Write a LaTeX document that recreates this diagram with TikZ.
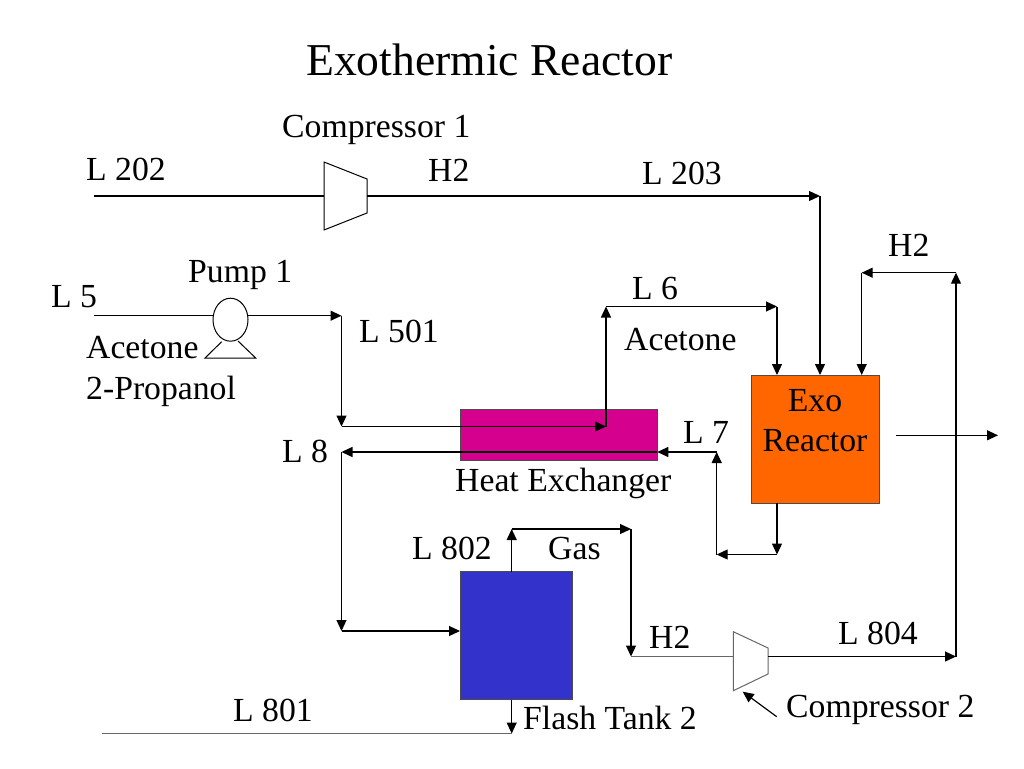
\documentclass[tikz,border=0pt]{standalone}
\usepackage{fontspec}
\setmainfont{Liberation Serif}
\usetikzlibrary{arrows.meta,shapes.geometric}
\tikzset{
  x=1pt,y=-1pt,
  lbl/.style={anchor=base west,inner sep=0pt,font=\fontsize{33.7}{40}\selectfont},
  flow/.style={line width=1.2pt,-{Triangle[length=11pt,width=10pt]}},
  pipe/.style={line width=1.2pt},
  greypipe/.style={line width=1.2pt,color=black!60},
  unit/.style={draw=black!70,line width=1pt,inner sep=0pt,outer sep=0pt,anchor=north west}
}
\begin{document}
\begin{tikzpicture}
\useasboundingbox (0,0) rectangle (1024,768);
% units
\node[unit,fill={rgb,255:red,255;green,102;blue,0},minimum width=128pt,minimum height=128pt] (exo) at (751,375) {};
\node[unit,fill={rgb,255:red,214;green,0;blue,143},minimum width=197pt,minimum height=51pt] (hx) at (460,409.5) {};
\node[unit,fill={rgb,255:red,51;green,51;blue,204},minimum width=112pt,minimum height=128pt] (tank) at (460,571.5) {};
\node[draw,ellipse,line width=1pt,inner sep=0pt,outer sep=0pt,minimum width=35pt,minimum height=43pt] (pump) at (230.5,319.7) {};
\draw[line width=1pt] (221.7,341.7)--(205,358)--(255.7,358)--(238,341);
\draw[line width=1pt] (324,162)--(367,179)--(367,213)--(324,230)--cycle;
\draw[line width=1pt,color=black!60] (733.3,631.7)--(768,648)--(768,674)--(733.3,690.7)--cycle;
% line ends and corners
\coordinate (in202) at (94,196);
\coordinate (c1in) at (324,196);
\coordinate (c1out) at (367,196);
\coordinate (j203) at (820,196);
\coordinate (r203) at (820,375);
\coordinate (in5) at (94,315.7);
\coordinate (j501) at (341.5,315.7);
\coordinate (j501b) at (341.5,426.5);
\coordinate (j6a) at (606,426.5);
\coordinate (j6b) at (606,306.5);
\coordinate (j6c) at (777,306.5);
\coordinate (r6) at (777,375);
\coordinate (rb) at (777,503);
\coordinate (jb) at (777,554.5);
\coordinate (jl) at (716.7,554.5);
\coordinate (j7) at (716.7,452);
\coordinate (hxr) at (657.3,452);
\coordinate (j8) at (341.5,452);
\coordinate (j8b) at (341.5,631);
\coordinate (tl) at (460,631);
\coordinate (tt) at (511.7,571.5);
\coordinate (jg) at (511.7,529);
\coordinate (jga) at (631,529);
\coordinate (jgb) at (631,656.5);
\coordinate (c2in) at (733.3,656.5);
\coordinate (c2out) at (768,656.5);
\coordinate (j804) at (956,656.5);
\coordinate (jh) at (956,272.7);
\coordinate (jhb) at (861.7,272.7);
\coordinate (rh) at (861.7,375);
\coordinate (tb) at (511.7,699.5);
\coordinate (j801) at (511.7,733.5);
\coordinate (out801) at (102,733.5);
\coordinate (exoa) at (896,435.3);
\coordinate (exob) at (998,435.3);
\coordinate (c2lab) at (776.7,716.7);
\coordinate (c2tip) at (742.7,691.7);
% connectors
\draw[pipe] (in202)--(c1in);
\draw[flow] (c1out)--(j203);
\draw[flow] (j203)--(r203);
\draw[pipe] (in5)--(pump.west |- in5);
\draw[flow] (pump.east |- j501)--(j501);
\draw[flow] (j501)--(j501b);
\draw[flow] (j501b)--(j6a);
\draw[flow] (j6a)--(j6b);
\draw[flow] (j6b)--(j6c);
\draw[flow] (j6c)--(r6);
\draw[flow] (rb)--(jb);
\draw[flow] (jb)--(jl);
\draw[flow] (jl)--(j7);
\draw[flow] (j7)--(hxr);
\draw[flow] (hxr)--(j8);
\draw[flow] (j8)--(j8b);
\draw[flow] (j8b)--(tl);
\draw[flow] (tt)--(jg);
\draw[flow] (jg)--(jga);
\draw[flow] (jga)--(jgb);
\draw[greypipe] (jgb)--(c2in);
\draw[flow] (c2out)--(j804);
\draw[flow] (j804)--(jh);
\draw[flow] (jh)--(jhb);
\draw[flow] (jhb)--(rh);
\draw[flow] (tb)--(j801);
\draw[greypipe] (j801)--(out801);
\draw[flow] (exoa)--(exob);
\draw[flow] (c2lab)--(c2tip);
% labels
\node[lbl,font=\fontsize{45.6}{50}\selectfont] (title) at (306,75.5) {Exothermic Reactor};
\node[lbl] (lab1) at (282,137) {Compressor 1};
\node[lbl] (lab202) at (86,180) {L 202};
\node[lbl] (labh2a) at (428,181) {H2};
\node[lbl] (lab203) at (642,184) {L 203};
\node[lbl] (labh2b) at (888,256) {H2};
\node[lbl] (labpump) at (188,282) {Pump 1};
\node[lbl] (lab5) at (51,307) {L 5};
\node[lbl] (lab501) at (359,342) {L 501};
\node[lbl] (labac) at (86,358) {Acetone};
\node[lbl] (labpr) at (86,399) {2-Propanol};
\node[lbl] (lab6) at (632,299) {L 6};
\node[lbl] (labacb) at (624,350) {Acetone};
\node[lbl,anchor=base] (labexo) at (815,411) {Exo};
\node[lbl,anchor=base] (labre) at (815,451) {Reactor};
\node[lbl] (lab7) at (683,443) {L 7};
\node[lbl] (lab8) at (282,462) {L 8};
\node[lbl] (labhx) at (455,491) {Heat Exchanger};
\node[lbl] (lab802) at (412,559) {L 802};
\node[lbl] (labgas) at (548,559) {Gas};
\node[lbl] (labh2c) at (649,648) {H2};
\node[lbl] (lab804) at (838,644) {L 804};
\node[lbl] (lab2) at (786,717) {Compressor 2};
\node[lbl] (lab801) at (233,721) {L 801};
\node[lbl] (labft) at (523,729) {Flash Tank 2};
\end{tikzpicture}
\end{document}
